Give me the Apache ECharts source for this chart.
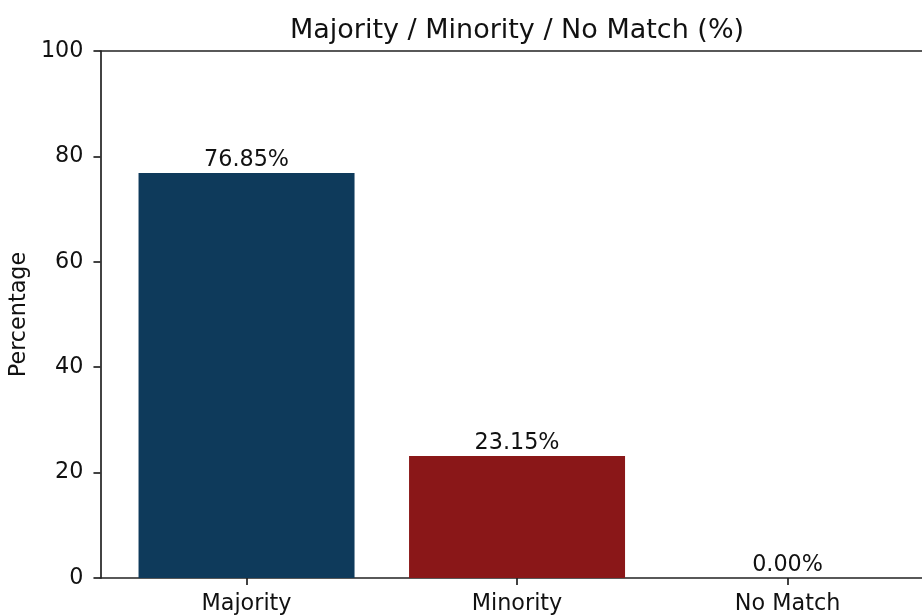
<!DOCTYPE html>
<html>
<head>
<meta charset="utf-8">
<script src="https://cdn.jsdelivr.net/npm/echarts@6/dist/echarts.min.js"></script>
<style>
html,body{margin:0;padding:0;background:#fff;}
#chart{width:922px;height:615px;}
</style>
</head>
<body>
<div id="chart"></div>
<script>
const categories = ['Majority', 'Minority', 'No Match'];
const percentages = [76.85, 23.15, 0.00];
const barColors = ['#0e3a5b', '#8a1718', '#8a1718'];
const yTicks = [0, 20, 40, 60, 80, 100];

const chart = echarts.init(document.getElementById('chart'), null, {renderer: 'canvas'});
const FONT = 'DejaVu Sans';
const AX = '#222222';

const barData = categories.map((c, i) => ({
  value: [i, percentages[i]],
  itemStyle: {color: barColors[i]}
}));

chart.setOption({
  animation: false,
  backgroundColor: '#ffffff',
  title: {
    text: 'Majority / Minority / No Match (%)',
    left: 512, textAlign: 'center',
    top: 12,
    textStyle: {fontFamily: FONT, fontSize: 27, fontWeight: 'normal', color: '#111'}
  },
  grid: {left: 99, right: 0, top: 51, bottom: 36, containLabel: false},
  xAxis: [{
    type: 'value',
    min: -0.54, max: 2.497,
    axisLine: {show: true, onZero: false, lineStyle: {color: AX, width: 1.7}},
    axisTick: {show: true, customValues: [0, 1, 2], length: 7, lineStyle: {color: AX, width: 1.7}},
    axisLabel: {
      customValues: [0, 1, 2],
      formatter: v => categories[Math.round(v)] || '',
      fontFamily: FONT, fontSize: 22.3, color: '#111', margin: 15
    },
    splitLine: {show: false}
  }, {
    type: 'value', position: 'top',
    min: -0.54, max: 2.497,
    axisLine: {show: true, onZero: false, lineStyle: {color: AX, width: 1.7}},
    axisTick: {show: false}, axisLabel: {show: false}, splitLine: {show: false}
  }],
  yAxis: {
    type: 'value', min: 0, max: 100, interval: 20,
    name: 'Percentage', nameLocation: 'middle', nameRotate: 90, nameGap: 70,
    nameTextStyle: {fontFamily: FONT, fontSize: 22.3, color: '#111'},
    axisLine: {show: true, onZero: false, lineStyle: {color: AX, width: 1.7}},
    axisTick: {show: true, length: 7, lineStyle: {color: AX, width: 1.7}},
    axisLabel: {
      formatter: v => yTicks.includes(v) ? String(v) : '',
      fontFamily: FONT, fontSize: 22.3, color: '#111', margin: 17
    },
    splitLine: {show: false}
  },
  series: [{
    type: 'bar',
    xAxisIndex: 0,
    data: barData,
    barWidth: 216,
    label: {
      show: true, position: 'top', distance: 2,
      formatter: p => p.value[1].toFixed(2) + '%',
      fontFamily: FONT, fontSize: 22.3, color: '#111'
    }
  }]
});
</script>
</body>
</html>
